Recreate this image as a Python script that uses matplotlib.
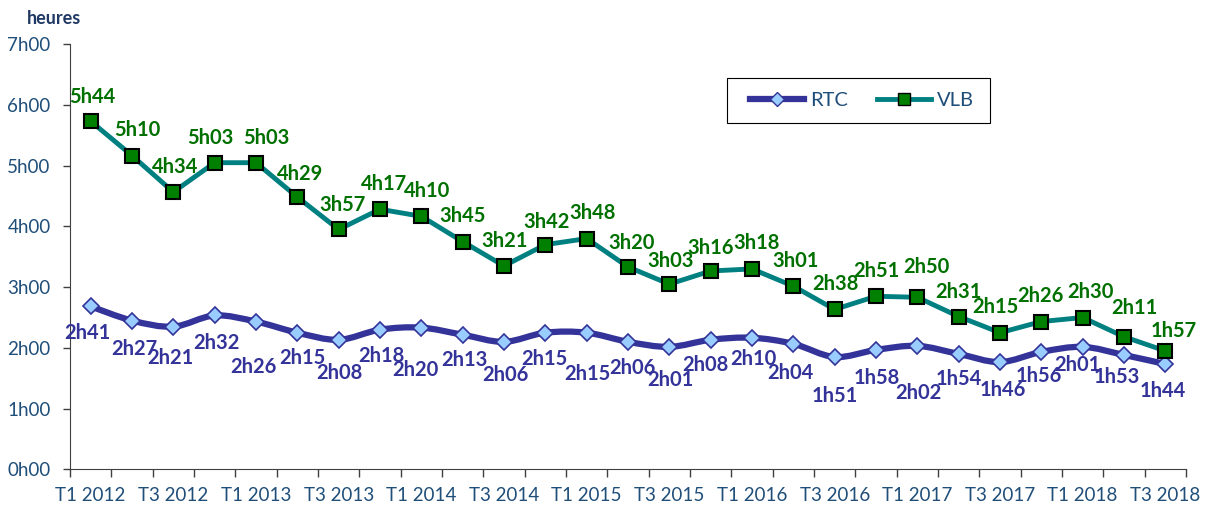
import matplotlib
matplotlib.use("Agg")
import matplotlib.pyplot as plt
from matplotlib.path import Path
from matplotlib.patches import PathPatch, Rectangle
from matplotlib.lines import Line2D

# quarters T1 2012 .. T3 2018
quarters = ["T%d %d" % (q, y) for y in range(2012, 2019) for q in (1, 2, 3, 4)][:27]

# durations in minutes
vlb_min = [344, 310, 274, 303, 303, 269, 237, 257, 250, 225, 201, 222, 228, 200,
           183, 196, 198, 181, 158, 171, 170, 151, 135, 146, 150, 131, 117]
rtc_min = [161, 147, 141, 152, 146, 135, 128, 138, 140, 133, 126, 135, 135, 126,
           121, 128, 130, 124, 111, 118, 122, 114, 106, 116, 121, 113, 104]

# label offsets (pixels) from each point
vlb_off = [(2, 24), (5, 26), (2, 25), (-4, 25), (10, 25), (3, 23), (4, 24), (4, 25),
           (6, 25), (0, 26), (1, 25), (1, 23), (6, 26), (4, 24), (1, 23), (0, 23),
           (5, 26), (2, 25), (1, 25), (0, 25), (9, 30), (0, 25), (-5, 26), (-1, 26),
           (8, 26), (10, 29), (8, 20)]
rtc_off = [(-3, -27), (2, -28), (-3, -31), (2, -28), (-3, -45), (5, -25), (1, -33),
           (1, -26), (-6, -42), (2, -25), (1, -33), (-1, -26), (1, -41), (4, -26),
           (1, -33), (-5, -25), (1, -21), (-3, -29), (0, -39), (1, -28), (1, -47),
           (0, -25), (3, -28), (-2, -24), (-5, -18), (-7, -22), (-3, -27)]

RTC_C = "#333399"
VLB_C = "#008080"
LAB_G = "#007000"
AX_C = "#1F4E79"

plt.rcParams['font.family'] = ['Lato', 'DejaVu Sans']


def fmt(m):
    return "%dh%02d" % (m // 60, m % 60)


def smooth_path(xs, ys):
    pts = list(zip(xs, ys))
    verts = [pts[0]]
    codes = [Path.MOVETO]
    n = len(pts)
    for i in range(n - 1):
        p0 = pts[max(i - 1, 0)]
        p1 = pts[i]
        p2 = pts[i + 1]
        p3 = pts[min(i + 2, n - 1)]
        c1 = (p1[0] + (p2[0] - p0[0]) / 6, p1[1] + (p2[1] - p0[1]) / 6)
        c2 = (p2[0] - (p3[0] - p1[0]) / 6, p2[1] - (p3[1] - p1[1]) / 6)
        verts += [c1, c2, p2]
        codes += [Path.CURVE4] * 3
    return Path(verts, codes)


fig = plt.figure(figsize=(12.08, 5.07), dpi=100)
ax = fig.add_axes([70 / 1208, 1 - 469.3 / 507, 1116 / 1208, 425 / 507])

x = list(range(len(quarters)))
vlb = [m / 60 for m in vlb_min]
rtc = [m / 60 for m in rtc_min]

# RTC: smoothed line + diamonds
ax.add_patch(PathPatch(smooth_path(x, rtc), fill=False, edgecolor=RTC_C,
                       lw=4.5, capstyle='round', joinstyle='round', zorder=3))
ax.plot(x, rtc, ls='none', marker='D', ms=8.5, mfc="#99CCFF", mec=RTC_C,
        mew=1.2, zorder=4)

# VLB
ax.plot(x, vlb, color=VLB_C, lw=3.5, marker='s', ms=9.5, mfc="#008000",
        mec="black", mew=1.5, zorder=4)

for i in x:
    ax.annotate(fmt(vlb_min[i]), (i, vlb[i]), xytext=vlb_off[i],
                textcoords='offset pixels', ha='center', va='center',
                color=LAB_G, fontsize=14.5, fontweight='bold', zorder=5)
    ax.annotate(fmt(rtc_min[i]), (i, rtc[i]), xytext=rtc_off[i],
                textcoords='offset pixels', ha='center', va='center',
                color=RTC_C, fontsize=14.5, fontweight='bold', zorder=5)

ax.set_xlim(-0.5, len(quarters) - 0.5)
ax.set_ylim(0, 7)
ax.set_yticks(range(8))
ax.set_yticklabels(["%dh00" % h for h in range(8)])
ax.set_xticks(x[::2])
ax.set_xticklabels(quarters[::2])
ax.set_xticks([i - 0.5 for i in range(len(quarters) + 1)], minor=True)
ax.tick_params(axis='x', which='major', length=0, pad=13, labelsize=13.5, labelcolor=AX_C)
ax.tick_params(axis='x', which='minor', length=6, width=1, color="#404040")
ax.tick_params(axis='y', length=5, width=1, color="#404040", labelsize=13.5,
               labelcolor=AX_C, pad=9)
for s in ("top", "right"):
    ax.spines[s].set_visible(False)
for s in ("left", "bottom"):
    ax.spines[s].set_color("#404040")

fig.text(27 / 1208, 1 - 18 / 507, "heures", fontsize=13, fontweight='bold',
         color="#1F3864", va='center', ha='left')

# legend box
ax.add_patch(Rectangle((727 / 1208, 1 - 123 / 507), 263 / 1208, 45 / 507,
                       transform=fig.transFigure, facecolor="white",
                       edgecolor="black", lw=0.8, zorder=6, clip_on=False))
handles = [
    Line2D([], [], color=RTC_C, lw=4.5, marker='D', ms=7, mfc="#99CCFF", mec=RTC_C),
    Line2D([], [], color=VLB_C, lw=3.5, marker='s', ms=8, mfc="#008000", mec="black"),
]
leg = ax.legend(handles, ["RTC", "VLB"], ncol=2, loc='center',
                bbox_to_anchor=(862 / 1208, 1 - 100.5 / 507), bbox_transform=fig.transFigure,
                frameon=False, fontsize=14.5, handlelength=2.7, columnspacing=1.4,
                handletextpad=0.3, borderaxespad=0, borderpad=0)
leg.set_zorder(7)
for t in leg.get_texts():
    t.set_color(AX_C)

fig.savefig("out.png", dpi=100)
